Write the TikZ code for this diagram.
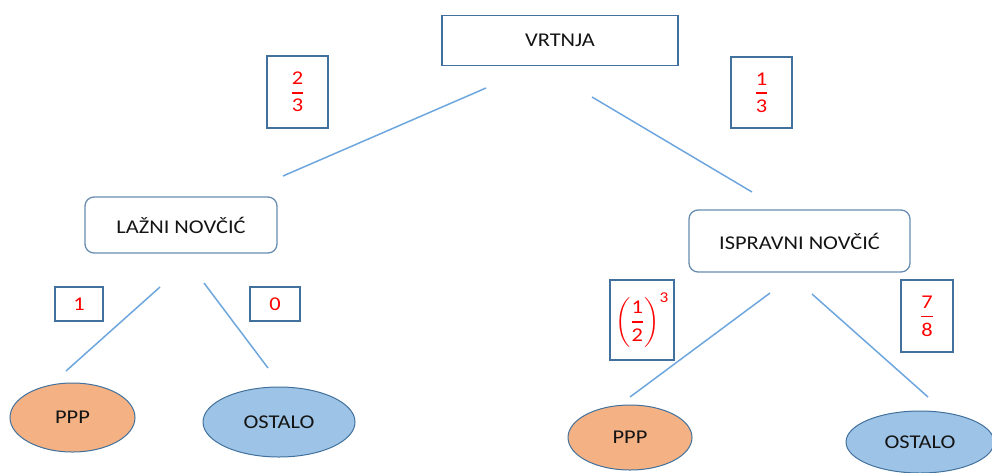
\RequirePackage{fix-cm}
\documentclass[tikz,border=0pt]{standalone}
\usepackage{amsmath}
\usepackage{fontspec}
\setmainfont[FakeStretch=1.15]{Carlito}
\usetikzlibrary{shapes.geometric}
\definecolor{bcol}{RGB}{65,113,156}
\definecolor{lcol}{RGB}{110,166,222}
\definecolor{orangefill}{RGB}{244,177,131}
\definecolor{bluefill}{RGB}{157,195,230}
\definecolor{tcol}{RGB}{20,20,20}
\newcommand{\myfr}[2]{$\genfrac{}{}{1.8pt}{0}{\text{#1}}{\text{#2}}$}
\tikzset{
  every node/.style={font=\fontsize{19.5}{23.4}\selectfont, inner sep=0pt, text=tcol},
  sqbox/.style={draw=bcol, line width=1.4pt, rectangle},
  rbox/.style={draw=bcol!80, line width=1.3pt, rectangle, rounded corners=9pt},
  lbl/.style={draw=bcol, line width=1.4pt, rectangle, text=red},
  ell/.style={ellipse, draw=bcol, line width=1pt},
  conn/.style={draw=lcol, line width=1.5pt}
}
\begin{document}
\begin{tikzpicture}[x=1pt,y=-1pt]
\useasboundingbox (0,0) rectangle (992,472);
\begin{scope}
\clip (0,0) rectangle (992,472);
% main nodes
\node[sqbox, minimum width=236pt, minimum height=50pt] (vrt) at (560,40.5) {VRTNJA};
\node[rbox, minimum width=192pt, minimum height=56pt] (laz) at (181,225) {LAŽNI NOVČIĆ};
\node[rbox, minimum width=221pt, minimum height=62pt] (isp) at (799.5,241) {ISPRAVNI NOVČIĆ};
% leaves
\node[ell, fill=orangefill, minimum width=125pt, minimum height=69pt] (ppp1) at (72.5,417.5) {PPP};
\node[ell, fill=bluefill, minimum width=152pt, minimum height=70pt] (ost1) at (279,422) {OSTALO};
\node[ell, fill=orangefill, minimum width=124pt, minimum height=65pt] (ppp2) at (630,437.5) {PPP};
\node[ell, fill=bluefill, minimum width=148pt, minimum height=62pt] (ost2) at (920,442) {OSTALO};
% probability labels
\node[lbl, minimum width=61pt, minimum height=72pt] (p1) at (297.5,92) {\myfr{2}{3}};
\node[lbl, minimum width=61pt, minimum height=71pt] (p2) at (761.5,92.5) {\myfr{1}{3}};
\node[lbl, minimum width=48pt, minimum height=34pt] (p3) at (79,304) {1};
\node[lbl, minimum width=50pt, minimum height=34pt] (p4) at (275,304) {0};
\node[lbl, minimum width=64pt, minimum height=80pt] (p5) at (642,320) {$\left(\genfrac{}{}{1.8pt}{0}{\text{1}}{\text{2}}\right)^{\mbox{\fontsize{15}{15}\selectfont 3}}$};
\node[lbl, minimum width=52pt, minimum height=72pt] (p6) at (927,316) {\myfr{7}{8}};
% connector end points
\coordinate (a1) at (486,88);  \coordinate (b1) at (283,176);
\coordinate (a2) at (592,97);  \coordinate (b2) at (752,192);
\coordinate (a3) at (160,287); \coordinate (b3) at (66,371);
\coordinate (a4) at (204,283); \coordinate (b4) at (268,368);
\coordinate (a5) at (770,293); \coordinate (b5) at (630,397);
\coordinate (a6) at (812,294); \coordinate (b6) at (928,397);
\draw[conn] (a1) -- (b1);
\draw[conn] (a2) -- (b2);
\draw[conn] (a3) -- (b3);
\draw[conn] (a4) -- (b4);
\draw[conn] (a5) -- (b5);
\draw[conn] (a6) -- (b6);
\end{scope}
\end{tikzpicture}
\end{document}
